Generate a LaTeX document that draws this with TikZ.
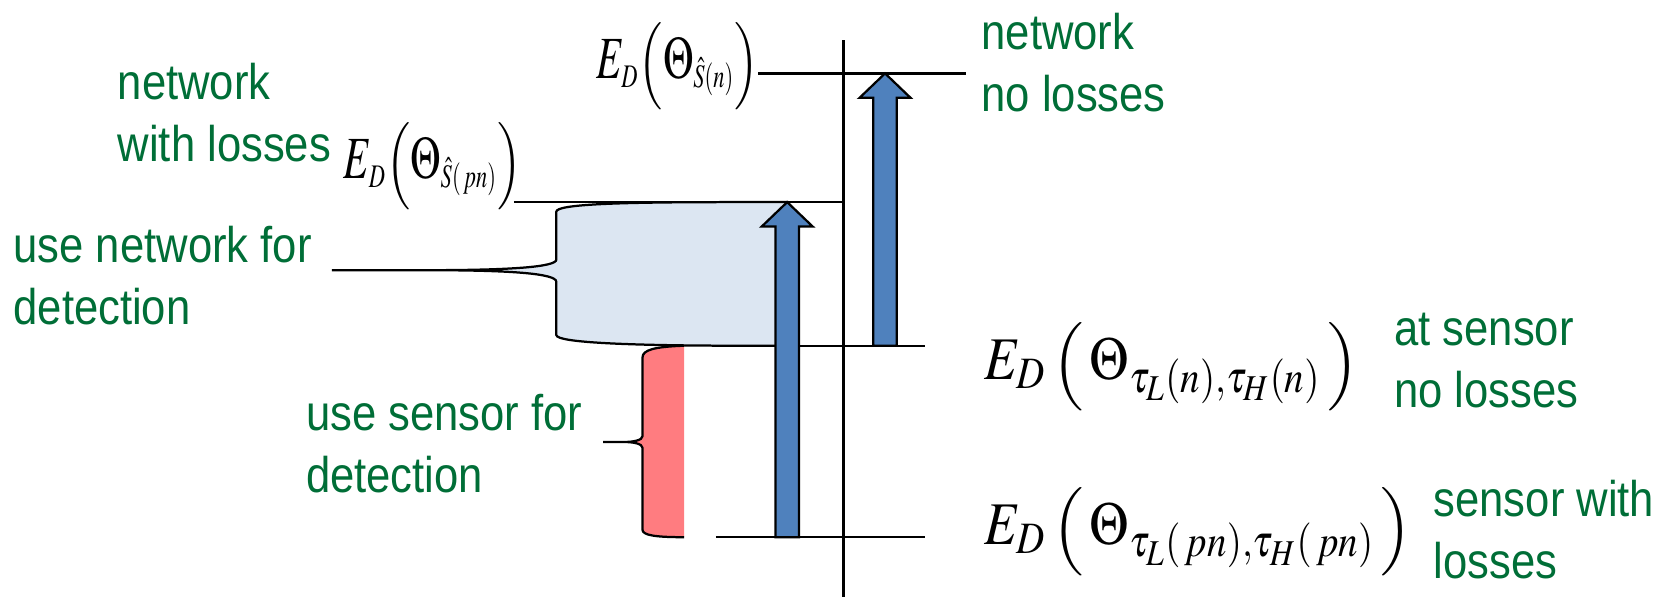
\documentclass[tikz,border=0pt]{standalone}
\usepackage{graphicx}
\usepackage{mathptmx}
\usepackage[no-math]{fontspec}
\setmainfont{Liberation Sans}[FakeStretch=0.87]
\usetikzlibrary{positioning}
\definecolor{labelgreen}{RGB}{0,110,55}
\definecolor{netfill}{RGB}{220,230,242}
\definecolor{sensorfill}{RGB}{255,124,128}
\definecolor{arrowblue}{RGB}{79,129,189}
\DeclareMathSizes{16}{16}{8.8}{6.5}
\newcommand{\greenfont}{\fontsize{13.4}{16.6}\selectfont}
\newcommand{\bigeq}{\fontsize{16.2}{19}\selectfont}
\newcommand{\smalleq}{\fontsize{16}{19}\selectfont}
\newcommand{\lpar}{\mathopen{\scalebox{1}[0.81]{$\Bigl($}}}
\newcommand{\rpar}{\mathclose{\scalebox{1}[0.81]{$\Bigr)$}}}

\begin{document}
\begin{tikzpicture}[x=0.01cm,y=-0.01cm,
  level/.style={semithick},
  greenlabel/.style={text=labelgreen,align=left,inner sep=0pt,anchor=west,font=\greenfont},
  eqlabel/.style={inner sep=0pt}]
\useasboundingbox (0,0) rectangle (1568,561);

% braces
\filldraw[netfill,draw=black,semithick] (740,190) -- (690,190) .. controls (580,190) and (523,192) .. (523,199)
  -- (523,244) .. controls (523,251) and (480,254) .. (400,254) -- (312,254) -- (400,254)
  .. controls (480,254) and (523,257) .. (523,265) -- (523,315)
  .. controls (523,322) and (590,325) .. (700,325) -- (740,325) -- cycle;
\fill[sensorfill] (643,325) .. controls (615,326) and (604,329) .. (604,336) -- (604,410)
  .. controls (604,414) and (595,415.5) .. (586,415.5)
  .. controls (595,415.5) and (604,417) .. (604,421) -- (604,498)
  .. controls (604,503) and (615,505) .. (643,505) -- cycle;
\draw[semithick] (643,325) .. controls (615,326) and (604,329) .. (604,336) -- (604,410)
  .. controls (604,414) and (595,415.5) .. (586,415.5) -- (567,415.5) -- (586,415.5)
  .. controls (595,415.5) and (604,417) .. (604,421) -- (604,498)
  .. controls (604,503) and (615,505) .. (643,505);

% levels
\coordinate (axtop) at (793,38);
\coordinate (axbot) at (793,561);
\coordinate (nA) at (713,69);   \coordinate (nB) at (908,69);
\coordinate (pnA) at (483,190); \coordinate (pnB) at (793,190);
\coordinate (snA) at (700,325); \coordinate (snB) at (870,325);
\coordinate (spA) at (673,505); \coordinate (spB) at (870,505);
\draw[level] (axtop) -- (axbot);
\draw[level] (nA) -- (nB);
\draw[level] (pnA) -- (pnB);
\draw[level] (snA) -- (snB);
\draw[level] (spA) -- (spB);

% arrows
\foreach \cx/\ytip/\ybot in {740/190/505, 832/69/325}
  \filldraw[arrowblue,draw=black,semithick] (\cx-11,\ybot) -- (\cx-11,\ytip+23) -- (\cx-24,\ytip+23)
    -- (\cx,\ytip) -- (\cx+24,\ytip+23) -- (\cx+11,\ytip+23) -- (\cx+11,\ybot) -- cycle;

% formulas
\node[eqlabel,anchor=east] (eqSn) at (714,62) {\smalleq\scalebox{0.68}[1]{$E_D\lpar\Theta_{\hat S(n)}\rpar$}};
\node[eqlabel,anchor=east] (eqSpn) at (491,156) {\smalleq\scalebox{0.68}[1]{$E_D\lpar\Theta_{\hat S(\,pn)}\rpar$}};
\node[eqlabel,anchor=west] (eqTn) at (925,345) {\bigeq\scalebox{0.87}[1]{$E_D\,\lpar\,\Theta_{\tau_L(n),\tau_H(n)}\,\rpar$}};
\node[eqlabel,anchor=west] (eqTpn) at (925,500) {\bigeq\scalebox{0.87}[1]{$E_D\,\lpar\,\Theta_{\tau_L(\,pn),\tau_H(\,pn)}\,\rpar$}};

% labels
\node[greenlabel] (netloss) at (110,106) {network\\with losses};
\node[greenlabel] (usenet) at (12,259) {use network for\\detection};
\node[greenlabel] (usesens) at (287,417) {use sensor for\\detection};
\node[greenlabel] (netnoloss) at (922,59) {network\\no losses};
\node[greenlabel] (sensnoloss) at (1310,339) {at sensor\\no losses};
\node[greenlabel] (sensloss) at (1347,498) {sensor with\\losses};
\end{tikzpicture}
\end{document}
